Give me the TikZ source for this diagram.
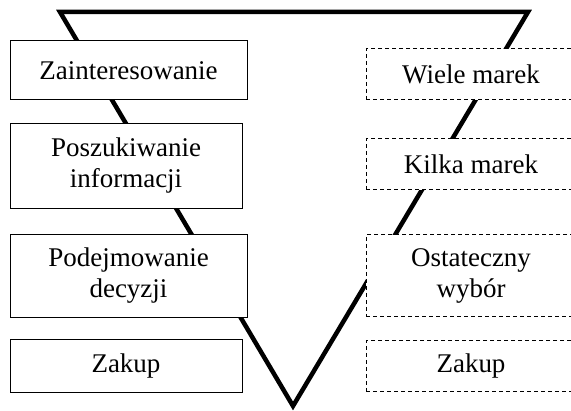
\documentclass[tikz,border=0pt]{standalone}
\usepackage{fontspec}
\setmainfont{Liberation Serif}
\begin{document}
\begin{tikzpicture}[x=1pt,y=-1pt,
    stage/.style={draw=black,fill=white,line width=1pt,inner sep=0pt,align=center,
                  font=\fontsize{27}{31}\selectfont},
    choice/.style={stage,dash pattern=on 4pt off 3pt}]
   \useasboundingbox (0,0) rectangle (571,411);
   \clip (0,0) rectangle (571,411);
   \begin{scope}
    \coordinate (topleft)  at (60,12);
    \coordinate (topright) at (528,12);
    \coordinate (apex)     at (293,406);
    \draw[black,line width=4.5pt,line join=miter] (topleft) -- (topright) -- (apex) -- cycle;
   \end{scope}
   \begin{scope}
    \node[stage,minimum width=237,minimum height=59] (interest) at (128.5,70.5) {Zainteresowanie};
    \node[stage,minimum width=232,minimum height=85] (search)   at (126,166)   {Poszukiwanie\\informacji};
    \node[stage,minimum width=237,minimum height=83] (decision) at (128.5,276) {Podejmowanie\\decyzji};
    \node[stage,minimum width=232,minimum height=53] (buyleft)  at (126,366.5) {Zakup};
   \end{scope}
   \begin{scope}
    \node[choice,minimum width=210,minimum height=51] (many)     at (471,74.5)  {Wiele marek};
    \node[choice,minimum width=210,minimum height=51] (few)      at (471,164.5) {Kilka marek};
    \node[choice,minimum width=210,minimum height=82] (final)    at (471,276)   {Ostateczny\\wybór};
    \node[choice,minimum width=210,minimum height=51] (buyright) at (471,366.5) {Zakup};
   \end{scope}
\end{tikzpicture}
\end{document}
